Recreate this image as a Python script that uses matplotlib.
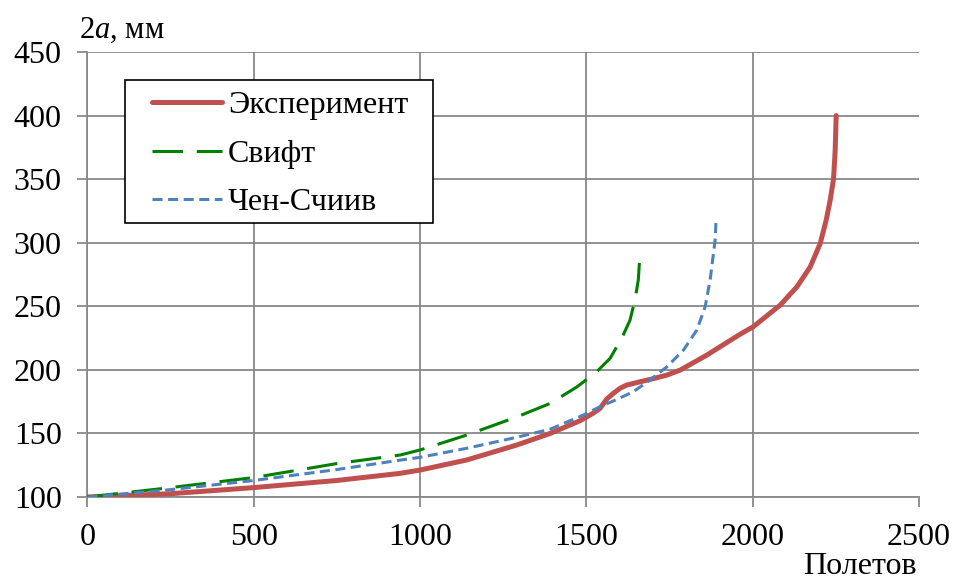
import matplotlib
matplotlib.use("Agg")
import matplotlib.pyplot as plt
from matplotlib.legend_handler import HandlerLine2D
from matplotlib.patches import Rectangle

plt.rcParams['font.family'] = ['Liberation Serif', 'DejaVu Serif']
plt.rcParams['mathtext.fontset'] = 'custom'
plt.rcParams['mathtext.rm'] = 'Liberation Serif'
plt.rcParams['mathtext.it'] = 'Liberation Serif:italic'

# Data
exp_x = [0, 250, 500, 750, 940, 1000, 1140, 1291, 1391, 1481, 1521, 1541, 1561, 1581, 1601, 1621, 1661,
         1700, 1742, 1782, 1862, 1962, 2002, 2083, 2133, 2173, 2203, 2221, 2233, 2243, 2248, 2251]
exp_y = [100, 102.6, 107.4, 113, 118.6, 121.2, 129.1, 140.9, 150, 160, 166, 169.7, 177, 181.5, 185.5, 188, 190.6,
         193, 195.9, 199.8, 211.6, 228, 234, 251, 265.3, 281, 299.4, 317.8, 333.5, 350, 372.8, 400]

swift_x = [0, 250, 500, 750, 940, 1000, 1140, 1291, 1391, 1471, 1531, 1571, 1606, 1631, 1646, 1656, 1661]
swift_y = [100, 107.4, 115.3, 126.3, 133, 137, 148.7, 163, 173.6, 186.5, 198.5, 209, 224.7, 239, 255, 270.6, 291]

chen_x = [0, 250, 500, 750, 940, 1000, 1140, 1291, 1391, 1491, 1551, 1581, 1641, 1691, 1742, 1792, 1832,
          1857, 1872, 1882, 1887, 1890]
chen_y = [100, 105.8, 113, 121.6, 129, 131.2, 138.3, 147, 153.3, 164.5, 172.3, 175.5, 182.8, 192, 202.4, 215.6, 231.3,
          249.6, 270.6, 291.6, 302, 318]

labels = ['Эксперимент', 'Свифт', 'Чен-Счиив']
x_ticks = [0, 500, 1000, 1500, 2000, 2500]
y_ticks = [100, 150, 200, 250, 300, 350, 400, 450]

W, H = 954, 582
fig = plt.figure(figsize=(W/100, H/100), dpi=100)
ax = fig.add_axes([87.5/W, 1-497/H, (919-87.5)/W, (497-52)/H])

l1, = ax.plot(exp_x, exp_y, color='#C0504D', lw=3.6, solid_capstyle='round', solid_joinstyle='round',
              label=labels[0], zorder=3)
l2, = ax.plot(swift_x, swift_y, color='#008000', lw=2.2, dashes=(10, 4.5), label=labels[1], zorder=3)
l3, = ax.plot(chen_x, chen_y, color='#4F81BD', lw=2.2, dashes=(3.3, 1.8), label=labels[2], zorder=3)

ax.set_xlim(0, 2500)
ax.set_ylim(100, 450)
ax.set_xticks(x_ticks)
ax.set_yticks(y_ticks)
ax.grid(True, color='#898989', lw=1.3)
ax.get_xgridlines()[-1].set_visible(False)
ax.set_axisbelow(True)
for s in ['top', 'right']:
    ax.spines[s].set_visible(False)
for s in ['left', 'bottom']:
    ax.spines[s].set_color('#898989')
    ax.spines[s].set_linewidth(1.3)
ax.tick_params(axis='both', colors='#898989', length=7, width=1.3, labelsize=23, labelcolor='black')
ax.tick_params(axis='x', pad=11.5)
ax.tick_params(axis='y', pad=11.5)

# legend frame (drawn separately to get the wider right padding)
frame = Rectangle((125/W, 1-223/H), (433-125)/W, (223-80)/H, transform=fig.transFigure,
                  facecolor='white', edgecolor='black', lw=1.2, zorder=4, clip_on=False)
ax.add_patch(frame)

hmap = {h: HandlerLine2D(xpad=0.53) for h in (l1, l2, l3)}
leg = ax.legend(handles=[l1, l2, l3], loc='upper left',
                bbox_to_anchor=((125-87.5)/831.5, (497-81)/445), fontsize=23,
                frameon=False, handlelength=2.72, handletextpad=0.19, borderpad=0.31,
                labelspacing=0.6, borderaxespad=0, handler_map=hmap)
leg.set_zorder(5)

fig.text(79/W, 1-30/H, r'2$a$, мм', fontsize=22, ha='left', va='center')
fig.text(917/W, 1-574/H, 'Полетов', fontsize=23, ha='right', va='baseline')

fig.savefig('out.png', dpi=100)
